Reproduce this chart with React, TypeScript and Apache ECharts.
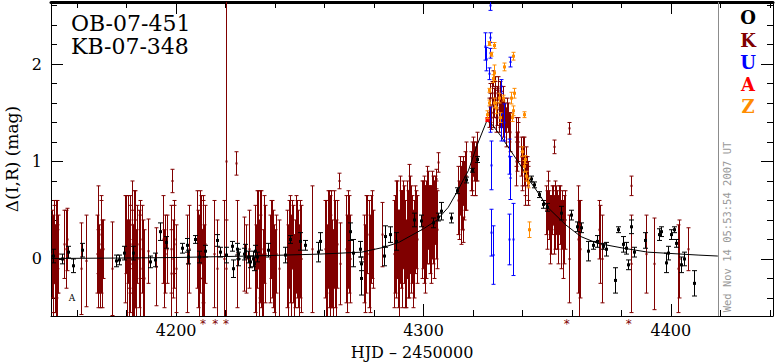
import React, { useEffect, useRef } from "react";
import * as echarts from "echarts";

// ---- data (t = HJD-2450000, y = Δ mag, e = error) ----
const xMajor = [4200, 4300, 4400];
const xMinor = [4160, 4180, 4220, 4240, 4260, 4280, 4320, 4340, 4360, 4380, 4420, 4440];
const yMajor = [0, 1, 2];
const yMinor = [-0.4, -0.2, 0.2, 0.4, 0.6, 0.8, 1.2, 1.4, 1.6, 1.8, 2.2, 2.4, 2.6];

const modelT = [4149.5, 4180, 4200, 4230, 4258, 4275, 4284, 4290, 4295, 4300, 4305.5, 4310, 4313.6, 4318.2, 4321.7, 4325.8, 4328, 4331, 4335, 4340, 4343, 4346.6, 4350.2, 4357.5, 4363.6, 4370.4, 4381, 4390.7, 4411, 4419];
const modelY = [0.005, 0.01, 0.015, 0.03, 0.05, 0.07, 0.12, 0.17, 0.24, 0.31, 0.4, 0.53, 0.69, 0.91, 1.17, 1.43, 1.37, 1.27, 1.12, 0.93, 0.8, 0.67, 0.53, 0.35, 0.23, 0.16, 0.11, 0.07, 0.04, 0.03];

const oData = [
  [4150.2, 0.03, 0.07], [4153.8, 0.0, 0.05], [4156.3, 0.07, 0.06], [4158.3, -0.07, 0.07], [4161.9, 0.09, 0.07],
  [4175.7, -0.02, 0.06], [4176.9, -0.01, 0.05], [4178.9, 0.06, 0.07], [4182.6, 0.06, 0.07], [4189.5, -0.03, 0.06],
  [4191.5, -0.01, 0.07], [4193.5, 0.28, 0.09], [4196.0, 0.17, 0.06], [4202.4, 0.11, 0.05], [4204.5, 0.14, 0.07],
  [4204.7, 0.02, 0.07], [4207.7, 0.2, 0.04], [4209.3, 0.02, 0.06], [4211.7, 0.08, 0.06], [4216.6, 0.19, 0.06],
  [4217.8, 0.07, 0.05], [4220.2, 0.04, 0.08], [4222.7, 0.13, 0.05], [4222.9, -0.1, 0.09], [4224.7, 0.1, 0.06],
  [4224.9, 0.0, 0.07], [4225.1, 0.05, 0.05], [4227.5, 0.05, 0.06], [4228.0, 0.08, 0.07], [4229.0, 0.02, 0.06],
  [4230.0, -0.03, 0.06], [4231.0, 0.0, 0.08], [4231.5, -0.05, 0.07], [4232.0, 0.08, 0.06], [4232.5, 0.02, 0.05],
  [4237.2, 0.09, 0.07], [4244.1, 0.04, 0.08], [4246.2, 0.2, 0.04], [4250.2, 0.18, 0.09], [4252.2, 0.14, 0.05],
  [4257.5, 0.07, 0.1], [4258.3, 0.18, 0.09], [4270.4, 0.28, 0.09], [4271.3, 0.06, 0.14], [4274.5, 0.1, 0.08],
  [4274.8, -0.05, 0.07], [4274.6, -0.2, 0.17], [4284.2, 0.03, 0.1], [4284.6, 0.23, 0.11], [4286.6, 0.25, 0.08],
  [4288.7, 0.18, 0.09], [4296.0, 0.4, 0.07], [4298.8, 0.39, 0.06], [4304.0, 0.37, 0.05], [4305.7, 0.43, 0.04],
  [4306.9, 0.49, 0.09], [4311.3, 0.42, 0.05], [4313.4, 0.7, 0.03], [4317.0, 0.81, 0.03], [4319.8, 0.91, 0.02],
  [4321.5, 1.02, 0.03], [4343.3, 0.82, 0.03], [4344.5, 0.76, 0.03], [4346.6, 0.66, 0.03], [4348.2, 0.56, 0.04],
  [4349.8, 0.53, 0.04], [4355.5, 0.47, 0.07], [4359.5, 0.45, 0.05], [4361.9, 0.33, 0.05], [4363.6, 0.32, 0.05],
  [4366.4, 0.08, 0.1], [4368.4, 0.14, 0.04], [4370.0, 0.18, 0.06], [4372.5, 0.13, 0.03], [4373.7, 0.1, 0.07],
  [4377.3, -0.22, 0.13], [4378.5, 0.3, 0.03], [4380.6, 0.15, 0.08], [4381.8, 0.11, 0.06], [4382.6, -0.06, 0.05],
  [4383.8, 0.33, 0.07], [4385.0, 0.07, 0.05], [4389.5, 0.19, 0.08], [4395.1, 0.25, 0.06], [4396.0, 0.28, 0.05],
  [4398.0, -0.04, 0.1], [4398.8, 0.06, 0.07], [4400.0, 0.25, 0.05], [4401.2, 0.3, 0.03], [4402.0, 0.16, 0.04],
  [4404.0, -0.06, 0.08], [4405.3, 0.0, 0.07], [4409.3, -0.25, 0.13],
];

const kData = [
  [4149.9, 0.05, 0.45], [4150.3, -0.05, 0.5], [4150.7, 0.15, 0.4], [4151.1, -0.1, 0.45], [4151.5, 0.1, 0.5],
  [4151.9, 0.0, 0.35], [4150.5, 0.3, 0.3], [4151.3, -0.2, 0.4], [4152.2, 0.05, 0.4],
  [4150.1, -0.25, 0.35], [4151.7, 0.25, 0.35], [4152.0, -0.15, 0.45],
  [4154.8, 0.15, 0.35], [4155.3, 0.1, 0.4], [4155.8, 0.2, 0.32],
  [4161.5, -0.1, 0.47], [4163.6, -0.02, 0.47],
  [4168.0, 0.05, 0.4], [4168.5, 0.3, 0.45], [4169.0, 0.0, 0.35], [4169.5, 0.15, 0.5], [4170.0, -0.05, 0.45],
  [4170.4, 0.1, 0.3], [4169.2, -0.2, 0.3], [4168.3, -0.1, 0.4], [4169.8, 0.25, 0.35],
  [4174.1, -0.1, 0.48],
  [4179.5, 0.1, 0.55], [4180.0, -0.1, 0.5], [4180.5, 0.2, 0.45], [4181.0, -0.2, 0.4], [4181.5, 0.0, 0.55],
  [4182.0, 0.35, 0.45], [4182.5, -0.15, 0.5], [4183.0, 0.1, 0.6], [4183.5, -0.05, 0.45], [4184.0, 0.15, 0.4],
  [4180.8, 0.05, 0.35], [4182.8, -0.25, 0.35], [4179.8, 0.25, 0.4], [4181.3, 0.15, 0.5], [4182.2, -0.05, 0.55],
  [4183.3, 0.25, 0.45], [4183.8, -0.2, 0.5],
  [4184.8, 0.0, 0.5], [4185.5, -0.1, 0.55], [4186.2, 0.1, 0.45], [4187.0, -0.2, 0.5], [4185.2, 0.2, 0.4],
  [4186.6, -0.1, 0.5],
  [4188.7, 0.08, 0.33], [4191.9, -0.08, 0.4],
  [4194.8, 0.2, 0.45], [4195.6, 0.05, 0.4], [4196.3, 0.1, 0.35], [4195.2, -0.1, 0.4],
  [4198.3, 0.8, 0.12], [4197.8, 0.1, 0.45], [4198.6, 0.0, 0.4], [4199.3, 0.2, 0.35], [4199.8, -0.1, 0.45],
  [4198.0, -0.15, 0.45], [4199.0, 0.15, 0.45],
  [4204.2, -0.05, 0.5], [4205.2, 0.1, 0.45],
  [4208.6, 0.2, 0.5], [4209.2, -0.1, 0.55], [4209.8, 0.1, 0.45], [4210.4, -0.2, 0.5], [4211.0, 0.0, 0.6],
  [4211.6, 0.15, 0.4], [4210.1, 0.3, 0.35], [4208.9, 0.0, 0.5], [4209.5, 0.25, 0.45], [4210.7, 0.1, 0.55],
  [4211.3, -0.15, 0.5],
  [4215.2, 0.05, 0.55], [4216.4, -0.1, 0.5],
  [4220.0, 1.0, 1.7], [4219.4, 0.0, 0.6], [4220.3, -0.1, 0.5],
  [4224.2, 0.98, 0.12], [4224.6, 0.05, 0.55],
  [4228.3, 0.0, 0.35], [4229.5, 0.1, 0.4], [4227.4, 0.05, 0.38],
  [4232.0, 0.0, 0.55], [4232.8, 0.2, 0.5], [4233.6, -0.1, 0.5], [4234.4, 0.1, 0.6], [4235.2, -0.15, 0.45],
  [4236.0, 0.05, 0.5], [4233.2, 0.3, 0.4], [4234.8, -0.3, 0.35], [4232.4, -0.15, 0.5], [4233.9, 0.15, 0.55],
  [4235.6, 0.2, 0.45], [4234.0, 0.0, 0.45],
  [4238.0, 0.0, 0.45], [4238.8, 0.1, 0.5], [4239.6, -0.1, 0.45], [4240.4, 0.05, 0.4], [4238.4, 0.2, 0.4],
  [4239.2, 0.0, 0.5], [4240.0, -0.15, 0.45],
  [4241.7, -0.1, 0.5],
  [4245.0, 0.0, 0.5], [4245.8, 0.15, 0.45], [4246.6, -0.1, 0.55], [4247.4, 0.05, 0.5], [4248.2, -0.05, 0.45],
  [4249.0, 0.1, 0.5], [4249.8, -0.15, 0.5], [4250.6, 0.0, 0.55], [4247.0, 0.25, 0.35], [4245.4, -0.15, 0.5],
  [4246.2, 0.1, 0.55], [4247.8, -0.2, 0.45], [4248.6, 0.15, 0.5], [4249.4, 0.0, 0.5], [4250.2, 0.1, 0.5],
  [4255.0, 0.1, 0.65],
  [4260.4, 0.0, 0.6], [4261.2, 0.2, 0.5], [4262.0, -0.1, 0.55], [4262.8, 0.1, 0.6], [4263.6, -0.2, 0.5],
  [4264.4, 0.05, 0.55], [4265.2, 0.15, 0.45], [4261.8, 0.3, 0.4], [4263.2, -0.05, 0.45], [4260.8, -0.15, 0.5],
  [4261.6, 0.05, 0.55], [4262.4, 0.15, 0.5], [4263.9, 0.2, 0.5], [4264.8, -0.1, 0.5], [4260.0, 0.1, 0.5],
  [4266.0, 0.8, 0.08], [4266.2, -0.05, 0.42],
  [4268.5, 0.1, 0.55], [4269.4, 0.2, 0.5], [4270.3, 0.0, 0.45], [4268.9, -0.05, 0.5], [4269.8, 0.15, 0.5],
  [4275.8, 0.0, 0.45], [4276.8, 0.15, 0.5], [4277.8, 0.05, 0.55], [4278.8, 0.2, 0.45], [4279.6, 0.1, 0.4],
  [4276.3, -0.1, 0.45], [4277.3, 0.25, 0.4], [4278.3, -0.05, 0.5], [4279.2, 0.25, 0.45],
  [4283.4, 0.25, 0.33],
  [4288.0, 0.05, 0.55], [4288.8, 0.2, 0.6], [4289.6, 0.0, 0.5], [4290.4, 0.3, 0.55], [4291.2, 0.1, 0.6],
  [4292.0, 0.25, 0.5], [4292.8, -0.05, 0.45], [4293.6, 0.15, 0.55], [4294.4, 0.35, 0.5], [4295.2, 0.2, 0.45],
  [4296.0, 0.1, 0.5], [4296.8, 0.3, 0.4], [4294.3, 0.7, 0.27],
  [4288.4, 0.15, 0.5], [4289.2, 0.3, 0.5], [4290.0, -0.05, 0.55], [4290.8, 0.2, 0.5], [4291.6, 0.35, 0.45],
  [4292.4, 0.05, 0.55], [4293.2, 0.3, 0.5], [4294.0, 0.1, 0.5], [4294.8, 0.2, 0.55], [4295.6, 0.0, 0.5],
  [4296.4, 0.3, 0.45], [4297.2, 0.2, 0.45],
  [4299.2, 0.3, 0.5], [4300.0, 0.4, 0.45], [4300.8, 0.2, 0.55], [4301.6, 0.45, 0.5], [4302.4, 0.35, 0.4],
  [4303.2, 0.25, 0.5], [4304.0, 0.4, 0.45], [4304.8, 0.5, 0.35], [4305.6, 0.3, 0.4], [4305.0, 0.82, 0.1],
  [4305.7, 0.99, 0.1], [4299.6, 0.35, 0.45], [4300.4, 0.25, 0.5], [4301.2, 0.3, 0.5], [4302.0, 0.5, 0.4],
  [4302.8, 0.3, 0.45], [4303.6, 0.45, 0.45], [4304.4, 0.3, 0.5], [4305.2, 0.4, 0.4],
  [4314.0, 0.6, 0.35], [4314.6, 0.75, 0.3], [4315.2, 0.55, 0.4], [4315.8, 0.8, 0.25], [4316.4, 0.7, 0.3],
  [4317.0, 0.85, 0.35], [4316.0, 0.3, 0.13], [4314.3, 0.5, 0.3], [4315.5, 0.65, 0.35], [4316.7, 0.8, 0.3],
  [4319.2, 0.9, 0.2], [4319.8, 0.95, 0.25], [4320.4, 1.0, 0.2], [4321.0, 0.85, 0.2], [4321.6, 1.05, 0.25],
  [4319.5, 0.85, 0.2], [4320.1, 1.05, 0.2], [4320.7, 0.9, 0.25], [4321.3, 1.0, 0.2],
  [4326.5, 1.5, 0.15], [4327.0, 1.65, 0.15], [4327.4, 1.45, 0.12], [4328.0, 1.85, 0.08], [4328.5, 1.6, 0.15],
  [4329.0, 1.7, 0.12], [4329.6, 1.55, 0.18], [4330.2, 1.75, 0.12], [4330.8, 1.5, 0.15], [4331.4, 1.6, 0.12],
  [4332.0, 1.4, 0.15], [4332.6, 1.55, 0.1], [4333.2, 1.35, 0.2], [4334.0, 1.45, 0.15], [4334.8, 1.3, 0.2],
  [4326.8, 1.55, 0.15], [4327.7, 1.7, 0.12], [4328.2, 1.5, 0.15], [4328.8, 1.75, 0.12], [4329.3, 1.45, 0.15],
  [4329.9, 1.65, 0.12], [4330.5, 1.45, 0.15], [4331.1, 1.7, 0.12], [4331.7, 1.5, 0.15], [4332.3, 1.65, 0.12],
  [4332.9, 1.45, 0.15], [4333.6, 1.5, 0.15], [4334.4, 1.35, 0.15],
  [4337.2, 1.2, 0.25], [4337.8, 1.1, 0.2], [4338.4, 1.3, 0.15], [4337.5, 1.0, 0.25], [4338.1, 1.2, 0.2],
  [4339.4, 1.05, 0.2], [4340.0, 0.95, 0.2], [4340.6, 1.0, 0.25], [4341.2, 0.85, 0.2], [4341.8, 0.9, 0.15],
  [4342.4, 0.8, 0.2], [4339.7, 0.9, 0.2], [4340.3, 1.1, 0.15], [4340.9, 0.8, 0.25], [4341.5, 1.0, 0.15],
  [4342.1, 0.75, 0.2],
  [4349.5, 0.5, 0.25], [4350.2, 0.6, 0.3], [4350.9, 0.45, 0.25], [4351.6, 0.35, 0.3], [4352.3, 0.55, 0.2],
  [4353.0, 0.4, 0.3], [4353.7, 0.5, 0.25], [4354.4, 0.3, 0.35], [4355.1, 0.45, 0.3], [4355.8, 0.35, 0.25],
  [4356.5, 0.2, 0.4], [4357.2, 0.4, 0.3], [4349.8, 0.4, 0.3], [4350.5, 0.55, 0.25], [4351.2, 0.3, 0.35],
  [4351.9, 0.5, 0.25], [4352.6, 0.35, 0.3], [4353.3, 0.55, 0.25], [4354.0, 0.4, 0.3], [4354.7, 0.5, 0.25],
  [4355.4, 0.25, 0.35], [4356.1, 0.45, 0.25], [4356.8, 0.3, 0.35],
  [4352.6, 1.15, 0.07], [4358.7, 1.34, 0.06], [4358.8, 0.0, 0.45],
  [4362.3, 0.2, 0.55], [4362.8, 0.0, 0.6], [4363.2, 0.1, 0.5],
  [4370.9, 0.3, 0.3], [4371.5, 0.15, 0.4], [4372.0, 0.0, 0.45],
  [4383.8, 0.75, 0.1], [4383.8, -0.05, 0.5],
  [4389.9, 0.05, 0.4], [4393.1, -0.05, 0.47],
  [4402.8, -0.1, 0.45], [4403.2, 0.0, 0.4], [4406.9, 0.1, 0.22],
];

const uData = [
  [4326.7, 2.6, 0.05], [4324.7, 2.18, 0.14], [4325.3, 2.05, 0.12], [4326.7, 2.27, 0.05], [4326.8, 2.11, 0.05],
  [4326.5, 1.9, 0.06], [4326.9, 1.43, 0.13], [4327.1, 0.96, 0.25], [4327.1, 0.27, 0.24], [4327.9, 0.04, 0.3],
  [4331.2, 1.77, 0.07], [4332.4, 1.4, 0.19], [4331.5, 1.35, 0.14], [4334.8, 2.02, 0.05], [4335.0, 0.83, 0.22],
  [4334.6, 1.05, 0.18], [4334.7, 0.2, 0.26], [4336.0, 0.2, 0.37],
];

const aData = [[4325.6, 1.43, 0.02]];

const zData = [
  [4326.3, 2.21, 0.02], [4328.3, 2.19, 0.03], [4327.1, 2.1, 0.02], [4328.3, 1.91, 0.08], [4328.0, 1.85, 0.04],
  [4332.4, 1.97, 0.04], [4336.0, 2.08, 0.04], [4326.3, 1.73, 0.02], [4326.3, 1.6, 0.03], [4328.5, 1.6, 0.05],
  [4329.5, 1.55, 0.06], [4330.5, 1.65, 0.05], [4331.0, 1.45, 0.05], [4332.0, 1.65, 0.03], [4335.2, 1.65, 0.06],
  [4336.0, 1.52, 0.05], [4336.4, 1.7, 0.05], [4335.6, 1.45, 0.04], [4340.5, 1.48, 0.03], [4340.0, 1.1, 0.05],
  [4340.8, 0.95, 0.06], [4341.6, 0.85, 0.05], [4342.4, 0.78, 0.05], [4341.2, 1.02, 0.04], [4342.5, 0.3, 0.08],
  [4325.6, 1.48, 0.04],
];

// points below the plotted range (drawn as asterisks under the axis)
const offT = [4210.9, 4215.8, 4220.2, 4357.9, 4383.0];

const separatorT = 4419;
const legendNames = ["O", "K", "U", "A", "Z"];

const XMIN = 4149.4;
const XMAX = 4441.3;
const YMIN = -0.585;
const YMAX = 2.636;

const C_O = "#000000";
const C_K = "#800000";
const C_U = "#0000ff";
const C_A = "#ff0000";
const C_Z = "#ff8c00";
const legendColors = [C_O, C_K, C_U, C_A, C_Z];

const SERIF = "DejaVu Serif";

function errRenderer(color: string, capW: number, dot: number) {
  return (params: any, api: any) => {
    const x = api.value(0);
    const y = api.value(1);
    const e = api.value(2);
    const top = api.coord([x, y + e]);
    const bot = api.coord([x, y - e]);
    const c = api.coord([x, y]);
    const px = Math.round(c[0]) + 0.5;
    const st = { stroke: color, lineWidth: 1 };
    return {
      type: "group",
      children: [
        { type: "line", shape: { x1: px, y1: top[1], x2: px, y2: bot[1] }, style: st },
        { type: "line", shape: { x1: px - capW, y1: top[1], x2: px + capW, y2: top[1] }, style: st },
        { type: "line", shape: { x1: px - capW, y1: bot[1], x2: px + capW, y2: bot[1] }, style: st },
        { type: "rect", shape: { x: px - dot / 2, y: c[1] - dot / 2, width: dot, height: dot }, style: { fill: color } },
      ],
    };
  };
}

function errSeries(name: string, data: number[][], color: string, capW: number, dot: number, z: number) {
  return {
    type: "custom",
    name,
    data,
    xAxisIndex: 0,
    yAxisIndex: 0,
    clip: true,
    z,
    silent: true,
    renderItem: errRenderer(color, capW, dot),
  };
}

const numFmt = (v: number) => String(v);

export default function App() {
  const ref = useRef<HTMLDivElement>(null);
  useEffect(() => {
    if (!ref.current) return;
    const chart = echarts.init(ref.current, null, { renderer: "svg" });
    const axisLine = { show: true, onZero: false, lineStyle: { color: "#000", width: 1 } };
    const noLine = { show: false, onZero: false };
    const labelStyle = { color: "#000", fontFamily: SERIF, fontSize: 16, formatter: numFmt };
    const option: any = {
      animation: false,
      backgroundColor: "#fff",
      grid: { left: 51, right: 2, top: 2, bottom: 46, containLabel: false, outerBoundsMode: "none" },
      xAxis: [
        {
          type: "value", min: XMIN, max: XMAX, position: "bottom",
          axisLine,
          axisTick: { show: true, inside: true, length: 12, customValues: xMajor, lineStyle: { color: "#000" } },
          axisLabel: { show: true, customValues: xMajor, margin: 6, ...labelStyle },
          splitLine: { show: false },
          name: "HJD \u2013 2450000", nameLocation: "middle", nameGap: 28, nameMoveOverlap: false,
          nameTextStyle: { color: "#000", fontFamily: SERIF, fontSize: 16 },
        },
        {
          type: "value", min: XMIN, max: XMAX, position: "bottom",
          axisLine: noLine,
          axisTick: { show: true, inside: true, length: 6, customValues: xMinor, lineStyle: { color: "#000" } },
          axisLabel: { show: false }, splitLine: { show: false },
        },
        {
          type: "value", min: XMIN, max: XMAX, position: "top",
          axisLine: { show: true, onZero: false, lineStyle: { color: "#000", width: 3 } },
          axisTick: { show: true, inside: true, length: 12, customValues: xMajor, lineStyle: { color: "#000" } },
          axisLabel: { show: false }, splitLine: { show: false },
        },
        {
          type: "value", min: XMIN, max: XMAX, position: "top",
          axisLine: noLine,
          axisTick: { show: true, inside: true, length: 6, customValues: xMinor, lineStyle: { color: "#000" } },
          axisLabel: { show: false }, splitLine: { show: false },
        },
      ],
      yAxis: [
        {
          type: "value", min: YMIN, max: YMAX, position: "left",
          axisLine,
          axisTick: { show: true, inside: true, length: 12, customValues: yMajor, lineStyle: { color: "#000" } },
          axisLabel: { show: true, customValues: yMajor, margin: 9, ...labelStyle },
          splitLine: { show: false },
          name: "\u0394(I,R) (mag)", nameLocation: "middle", nameRotate: 90, nameGap: 31, nameMoveOverlap: false,
          nameTextStyle: { color: "#000", fontFamily: SERIF, fontSize: 17 },
        },
        {
          type: "value", min: YMIN, max: YMAX, position: "left",
          axisLine: noLine,
          axisTick: { show: true, inside: true, length: 6, customValues: yMinor, lineStyle: { color: "#000" } },
          axisLabel: { show: false }, splitLine: { show: false },
        },
        {
          type: "value", min: YMIN, max: YMAX, position: "right",
          axisLine,
          axisTick: { show: true, inside: true, length: 12, customValues: yMajor, lineStyle: { color: "#000" } },
          axisLabel: { show: false }, splitLine: { show: false },
        },
        {
          type: "value", min: YMIN, max: YMAX, position: "right",
          axisLine: noLine,
          axisTick: { show: true, inside: true, length: 6, customValues: yMinor, lineStyle: { color: "#000" } },
          axisLabel: { show: false }, splitLine: { show: false },
        },
      ],
      series: [
        errSeries("K", kData, C_K, 2, 2, 2),
        {
          type: "line",
          name: "model",
          data: modelT.map((t, i) => [t, modelY[i]]),
          xAxisIndex: 0,
          yAxisIndex: 0,
          showSymbol: false,
          symbol: "none",
          clip: true,
          z: 3,
          silent: true,
          lineStyle: { color: "#000", width: 1 },
          markLine: {
            silent: true,
            symbol: "none",
            label: { show: false },
            lineStyle: { color: "#8c8c8c", type: "solid", width: 1 },
            data: [{ xAxis: separatorT }],
          },
        },
        errSeries("O", oData, C_O, 2.5, 3, 4),
        errSeries("U", uData, C_U, 2, 2, 5),
        errSeries("A", aData, C_A, 2, 4, 6),
        errSeries("Z", zData, C_Z, 2, 3, 7),
        {
          type: "custom",
          name: "off",
          data: offT.map((t) => [t]),
          xAxisIndex: 0,
          yAxisIndex: 0,
          clip: false,
          silent: true,
          z: 8,
          renderItem: (params: any, api: any) => {
            const p = api.coord([api.value(0), YMIN]);
            return {
              type: "text",
              x: p[0],
              y: p[1] + 8,
              style: {
                text: "*",
                fill: C_K,
                fontFamily: "DejaVu Sans",
                fontSize: 12,
                textAlign: "center",
                textVerticalAlign: "middle",
              },
            };
          },
        },
      ],
      graphic: [
        {
          type: "text", left: 71, top: 12,
          style: { text: "OB-07-451", fill: "#000", fontFamily: SERIF, fontSize: 22 },
        },
        {
          type: "text", left: 71, top: 35,
          style: { text: "KB-07-348", fill: "#000", fontFamily: SERIF, fontSize: 22 },
        },
        ...legendNames.map((n, i) => ({
          type: "text",
          x: 748,
          y: [17, 40, 62, 84, 106][i],
          style: {
            text: n,
            fill: legendColors[i],
            fontFamily: SERIF,
            fontWeight: "bold",
            fontSize: 18,
            textAlign: "center",
            textVerticalAlign: "middle",
          },
        })),
        {
          type: "text",
          x: 727,
          y: 227,
          rotation: Math.PI / 2,
          style: {
            text: "Wed Nov 14 05:53:54 2007 UT",
            fill: "#999",
            fontFamily: "DejaVu Sans Mono",
            fontSize: 10.5,
            textAlign: "center",
            textVerticalAlign: "middle",
          },
        },
        {
          type: "text",
          x: 72,
          y: 298,
          style: { text: "A", fill: "#000", fontFamily: SERIF, fontSize: 9, textAlign: "center", textVerticalAlign: "middle" },
        },
      ],
    };
    chart.setOption(option);
    return () => chart.dispose();
  }, []);
  return (
    <div
      ref={ref}
      style={{ position: "absolute", left: 0, top: 0, width: 775, height: 362, background: "#fff" }}
    />
  );
}
